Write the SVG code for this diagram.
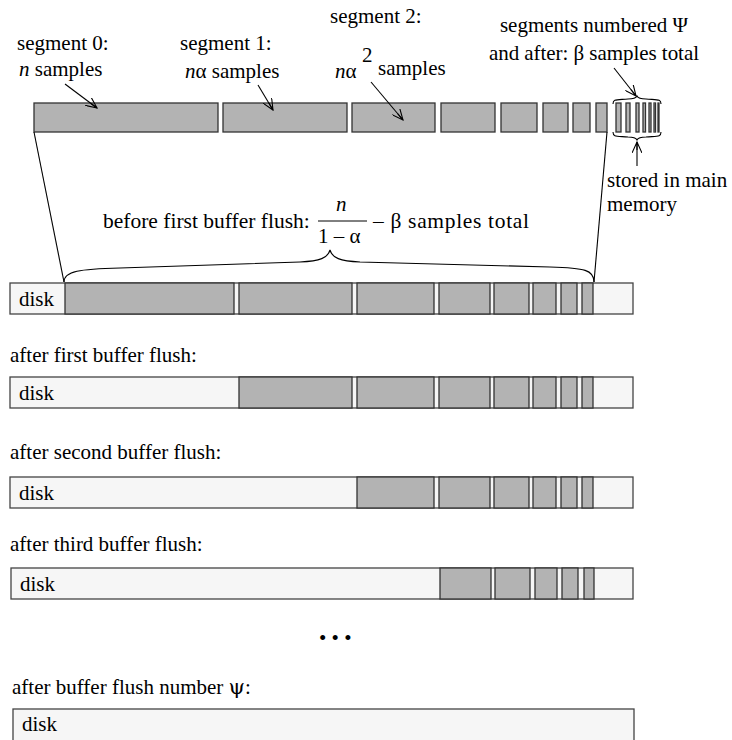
<svg xmlns="http://www.w3.org/2000/svg" width="732" height="740" viewBox="0 0 732 740" font-family="Liberation Serif, serif">
<defs>
<style>
text{font-family:"Liberation Serif","Times New Roman",serif;fill:#000;font-size:21px}
.seg{fill:#b3b3b3;stroke:#333;stroke-width:1.3}
.disk{fill:#f6f6f6;stroke:#444;stroke-width:1.3}
.ln{fill:none;stroke:#000;stroke-width:1.1}
.i{font-style:italic}
.g{font-family:"DejaVu Serif","Liberation Serif",serif;fill:#000}
</style>
<marker id="ah" viewBox="0 0 12 10" refX="11" refY="5" markerWidth="12" markerHeight="10" markerUnits="userSpaceOnUse" orient="auto">
<path d="M0,0 L11,5 L0,10 M3,5 L11,5" fill="none" stroke="#000" stroke-width="1.1"/>
</marker>
</defs>
<rect width="732" height="740" fill="#fff"/>

<g id="labels-top">
<text x="17" y="50">segment 0:</text>
<text x="19" y="76"><tspan class="i">n</tspan> samples</text>
<text x="180" y="50">segment 1:</text>
<text x="185" y="78"><tspan class="i">n</tspan>α samples</text>
<text x="330" y="23">segment 2:</text>
<text x="335" y="78"><tspan class="i">n</tspan>α</text>
<text x="362" y="62">2</text>
<text x="378" y="75">samples</text>
<text x="594" y="32" text-anchor="middle">segments numbered Ψ</text>
<text x="594" y="60" text-anchor="middle" textLength="210">and after: β samples total</text>
</g>

<g id="top-bar">
<rect class="seg" x="34" y="103" width="184" height="29"/>
<rect class="seg" x="223" y="103" width="124" height="29"/>
<rect class="seg" x="352" y="103" width="83" height="29"/>
<rect class="seg" x="441" y="103" width="54" height="29"/>
<rect class="seg" x="501" y="103" width="36" height="29"/>
<rect class="seg" x="543" y="103" width="25" height="29"/>
<rect class="seg" x="573" y="103" width="17" height="29"/>
<rect class="seg" x="596" y="103" width="11" height="29"/>
<rect class="seg" x="616" y="103" width="5" height="29"/>
<rect class="seg" x="626" y="103" width="4" height="29"/>
<rect class="seg" x="636" y="103" width="3" height="29"/>
<rect class="seg" x="643" y="103" width="2.5" height="29"/>
<rect class="seg" x="649" y="103" width="2" height="29"/>
<rect class="seg" x="654" y="103" width="1.5" height="29"/>
<rect class="seg" x="658" y="103" width="1" height="29"/>
</g>

<g id="memory">
<text x="607" y="187">stored in main</text>
<text x="607" y="211">memory</text>
</g>

<g id="before-label">
<text x="103" y="228" style="font-size:21.5px">before first buffer flush:</text>
<text class="i" x="336" y="211">n</text>
<line x1="318" y1="221" x2="367" y2="221" stroke="#000" stroke-width="1"/>
<text x="318" y="243">1 – α</text>
<text x="373" y="228" textLength="156" style="font-size:21.5px">– β samples total</text>
</g>

<g id="connectors">
<line class="ln" x1="65" y1="84" x2="97" y2="108" marker-end="url(#ah)"/>
<line class="ln" x1="258" y1="85" x2="273" y2="110" marker-end="url(#ah)"/>
<line class="ln" x1="371" y1="82" x2="403" y2="120" marker-end="url(#ah)"/>
<line class="ln" x1="614" y1="68" x2="636" y2="96" marker-end="url(#ah)"/>
<line class="ln" x1="637" y1="166" x2="637" y2="142" marker-end="url(#ah)"/>
<path class="ln" d="M613,104 C613,99 616,100 628,99 C634,99 636,98 637,96 C638,98 640,99 646,99 C658,100 661,99 661,104"/>
<path class="ln" d="M613,132 C613,137 616,136 628,137 C634,137 636,138 637,140 C638,138 640,137 646,137 C658,136 661,137 661,132"/>
<line class="ln" x1="34" y1="132" x2="64" y2="282"/>
<line class="ln" x1="607" y1="132" x2="594" y2="282"/>
<path class="ln" d="M64,282 C64,271 80,269 120,268 L300,262 C320,261 328,258 330,250 C332,258 340,261 360,262 L550,267 C585,268 594,270 594,282"/>
</g>

<g id="disk-0">
<rect class="disk" x="10" y="283" width="623" height="31"/>
<text x="19" y="306">disk</text>
<rect class="seg" x="65" y="283" width="169" height="31"/>
<rect class="seg" x="239" y="283" width="113" height="31"/>
<rect class="seg" x="357" y="283" width="77" height="31"/>
<rect class="seg" x="439" y="283" width="51" height="31"/>
<rect class="seg" x="494" y="283" width="35" height="31"/>
<rect class="seg" x="533" y="283" width="23" height="31"/>
<rect class="seg" x="561" y="283" width="16" height="31"/>
<rect class="seg" x="582" y="283" width="11" height="31"/>
</g>

<g id="disk-1">
<text x="10" y="362">after first buffer flush:</text>
<rect class="disk" x="10" y="377" width="623" height="31"/>
<text x="19" y="400">disk</text>
<rect class="seg" x="239" y="377" width="113" height="31"/>
<rect class="seg" x="357" y="377" width="77" height="31"/>
<rect class="seg" x="439" y="377" width="51" height="31"/>
<rect class="seg" x="494" y="377" width="35" height="31"/>
<rect class="seg" x="533" y="377" width="23" height="31"/>
<rect class="seg" x="561" y="377" width="16" height="31"/>
<rect class="seg" x="582" y="377" width="11" height="31"/>
</g>

<g id="disk-2">
<text x="10" y="459">after second buffer flush:</text>
<rect class="disk" x="10" y="477" width="623" height="31"/>
<text x="19" y="500">disk</text>
<rect class="seg" x="357" y="477" width="77" height="31"/>
<rect class="seg" x="439" y="477" width="51" height="31"/>
<rect class="seg" x="494" y="477" width="35" height="31"/>
<rect class="seg" x="533" y="477" width="23" height="31"/>
<rect class="seg" x="561" y="477" width="16" height="31"/>
<rect class="seg" x="582" y="477" width="11" height="31"/>
</g>

<g id="disk-3">
<text x="10" y="551">after third buffer flush:</text>
<rect class="disk" x="11" y="568" width="622" height="31"/>
<text x="20" y="591">disk</text>
<rect class="seg" x="440" y="568" width="51" height="31"/>
<rect class="seg" x="495" y="568" width="35" height="31"/>
<rect class="seg" x="535" y="568" width="22" height="31"/>
<rect class="seg" x="562" y="568" width="16" height="31"/>
<rect class="seg" x="584" y="568" width="10" height="31"/>
</g>

<text x="319" y="645">• • •</text>

<g id="disk-psi">
<text x="12" y="694">after buffer flush number <tspan class="g">ψ</tspan>:</text>
<rect class="disk" x="13" y="709" width="621" height="34"/>
<text x="22" y="731">disk</text>
</g>
</svg>
